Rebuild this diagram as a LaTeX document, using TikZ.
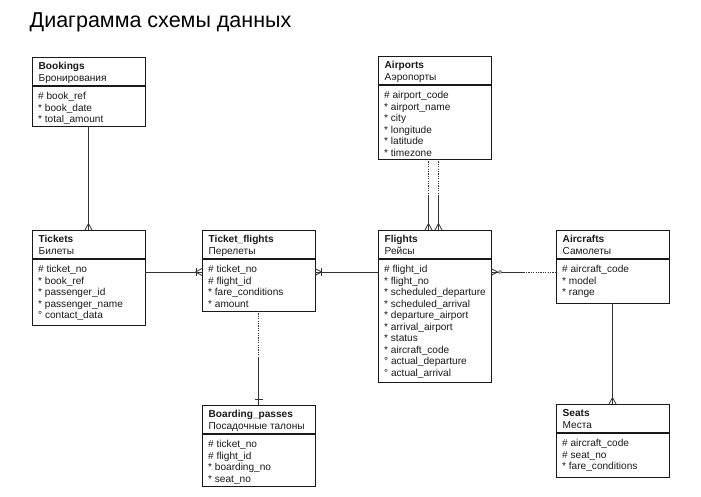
\documentclass[tikz,border=0pt]{standalone}
\usepackage{fontspec}
\setmainfont{Liberation Sans}
\usetikzlibrary{calc}
\tikzset{
  ebox/.style={draw=black!90, line width=0.9pt, inner sep=0pt, outer sep=0pt, anchor=north west, fill=white},
  sepline/.style={draw=black!90, line width=1.5pt},
  etext/.style={inner sep=0pt, anchor=base west, font=\fontsize{10.1}{12}\selectfont, text=black!90},
  ehead/.style={etext, font=\fontsize{10.1}{12}\selectfont\bfseries},
  conn/.style={draw=black!80, line width=0.8pt},
  dotconn/.style={conn, dash pattern=on 1.2pt off 1.2pt},
  pics/crowfoot/.style={code={\draw[conn] (0,3.5pt) -- (6.5pt,0) -- (0,-3.5pt);}},
  pics/onebar/.style={code={\draw[conn] (6pt,4pt) -- (6pt,-4pt);}},
  pics/zerocirc/.style={code={\draw[conn, fill=white, line width=0.5pt] (9pt,0) circle (1.6pt);}},
}
\newcommand\entity[8]{%
  \node[ebox, minimum width=#4pt, minimum height=#5pt] (#1) at (#2,#3) {};
  \draw[sepline] ([yshift=-29pt]#1.north west) -- ([yshift=-29pt]#1.north east);
  \node[ehead] (#1-h) at ({#2+6.5},{#3+12.5}) {#6};
  \node[etext] (#1-s) at ({#2+6.5},{#3+24}) {#7};
  \foreach \a [count=\i] in {#8} {
    \node[etext] (#1-a\i) at ({#2+6},{#3+42.5+11.5*(\i-1)}) {\a};
  }%
}
\begin{document}
\begin{tikzpicture}[x=1pt,y=-1pt]
\useasboundingbox (0,0) rectangle (701,496);
\node[anchor=base west, inner sep=0pt, font=\fontsize{21.5}{25}\selectfont] (title) at (29.5,27) {Диаграмма схемы данных};

\entity{book}{32}{57}{113}{69}{Bookings}{Бронирования}{\# book\_ref, * book\_date, * total\_amount}
\entity{tick}{32}{230}{113}{95}{Tickets}{Билеты}{\# ticket\_no, * book\_ref, * passenger\_id, * passenger\_name, ° contact\_data}
\entity{tf}{202}{230}{113}{81}{Ticket\_flights}{Перелеты}{\# ticket\_no, \# flight\_id, * fare\_conditions, * amount}
\entity{airp}{378}{56}{113}{103}{Airports}{Аэропорты}{\# airport\_code, * airport\_name, * city, * longitude, * latitude, * timezone}
\entity{fl}{378}{230}{113}{152}{Flights}{Рейсы}{\# flight\_id, * flight\_no, * scheduled\_departure, * scheduled\_arrival, * departure\_airport, * arrival\_airport, * status, * aircraft\_code, ° actual\_departure, ° actual\_arrival}
\entity{airc}{556}{230}{113}{73}{Aircrafts}{Самолеты}{\# aircraft\_code, * model, * range}
\entity{bp}{202}{405}{113}{81}{Boarding\_passes}{Посадочные талоны}{\# ticket\_no, \# flight\_id, * boarding\_no, * seat\_no}
\entity{seats}{556}{404}{113}{73}{Seats}{Места}{\# aircraft\_code, \# seat\_no, * fare\_conditions}

% Bookings - Tickets
\draw[conn] (book.south) -- (tick.north);
\pic[rotate=90] at (tick.north) {crowfoot};

% Tickets - Ticket_flights
\draw[conn] ([yshift=-42pt]tick.north east) -- ([yshift=-42pt]tf.north west);
\pic[rotate=180] at ([yshift=-42pt]tf.north west) {crowfoot};
\pic[rotate=180] at ([yshift=-42pt]tf.north west) {onebar};

% Flights - Ticket_flights
\draw[conn] ([yshift=-42pt]fl.north west) -- ([yshift=-42pt]tf.north east);
\pic at ([yshift=-42pt]tf.north east) {crowfoot};
\pic at ([yshift=-42pt]tf.north east) {onebar};

% Aircrafts - Flights
\coordinate (fa) at ($([yshift=-42pt]fl.north east)!0.5!([yshift=-42pt]airc.north west)$);
\draw[conn] ([yshift=-42pt]fl.north east) -- (fa);
\draw[dotconn] (fa) -- ([yshift=-42pt]airc.north west);
\pic at ([yshift=-42pt]fl.north east) {crowfoot};
\pic at ([yshift=-42pt]fl.north east) {zerocirc};

% Airports - Flights (two)
\coordinate (af1) at ($([xshift=-6pt]airp.south)!0.5!([xshift=-6pt]fl.north)$);
\draw[dotconn] ([xshift=-6pt]airp.south) -- (af1);
\draw[conn] (af1) -- ([xshift=-6pt]fl.north);
\pic[rotate=90] at ([xshift=-6pt]fl.north) {crowfoot};
\coordinate (af2) at ($([xshift=4pt]airp.south)!0.5!([xshift=4pt]fl.north)$);
\draw[dotconn] ([xshift=4pt]airp.south) -- (af2);
\draw[conn] (af2) -- ([xshift=4pt]fl.north);
\pic[rotate=90] at ([xshift=4pt]fl.north) {crowfoot};

% Ticket_flights - Boarding_passes
\coordinate (tb) at ($(tf.south)!0.5!(bp.north)$);
\draw[dotconn] (tf.south) -- (tb);
\draw[conn] (tb) -- (bp.north);
\pic[rotate=90] at (bp.north) {onebar};

% Aircrafts - Seats
\draw[conn] (airc.south) -- (seats.north);
\pic[rotate=90] at (seats.north) {crowfoot};
\end{tikzpicture}
\end{document}
